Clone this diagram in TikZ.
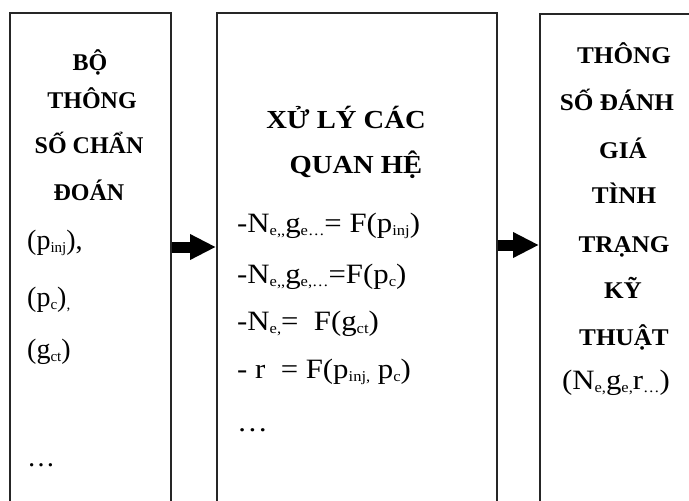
\documentclass[tikz,border=0pt]{standalone}
\usepackage{fontspec}
\setmainfont{Liberation Serif}
\newfontfamily\widefont[FakeStretch=1.1]{Liberation Serif}
\newfontfamily\semiwidefont[FakeStretch=1.05]{Liberation Serif}
\usetikzlibrary{arrows.meta}
\newcommand\lowsub[1]{\raisebox{-3.5pt}{\fontsize{15}{15}\selectfont #1}}
\tikzset{
  box/.style={draw=black!85, line width=1.6pt, anchor=north west, inner sep=0pt},
  ttl/.style={font=\fontsize{24}{24}\selectfont\bfseries, anchor=base, inner sep=0pt},
  wttl/.style={font=\semiwidefont\fontsize{24}{24}\selectfont\bfseries, anchor=base, inner sep=0pt},
  mttl/.style={font=\widefont\fontsize{26}{26}\selectfont\bfseries, anchor=base, inner sep=0pt},
  txt/.style={font=\fontsize{28}{28}\selectfont, anchor=base west, inner sep=0pt},
  wtxt/.style={font=\widefont\fontsize{28}{28}\selectfont, anchor=base west, inner sep=0pt},
  bigarrow/.style={line width=11pt, black, -{Triangle[length=26pt,width=24pt]}}
}
\begin{document}
\begin{tikzpicture}[x=1pt,y=-1pt]
\useasboundingbox (0,0) rectangle (689,501);
\begin{scope}
\clip (0,0) rectangle (689,501);
\node[box, minimum width=161pt, minimum height=520pt] (left) at (9,12) {};
\node[box, minimum width=280pt, minimum height=520pt] (mid) at (216,12) {};
\node[box, minimum width=180pt, minimum height=520pt] (right) at (539,13) {};
\end{scope}
% left box text
\node[ttl] (l1) at (90,70) {BỘ};
\node[ttl] (l2) at (92,108) {THÔNG};
\node[ttl] (l3) at (89,153) {SỐ CHẨN};
\node[ttl] (l4) at (89,200) {ĐOÁN};
\node[txt] (l5) at (27,249) {(p\lowsub{inj}),};
\node[txt] (l6) at (27,306) {(p\lowsub{c})\lowsub{,}};
\node[txt] (l7) at (27,358) {(g\lowsub{ct})};
\node[txt] (l8) at (27,466) {…};
% middle box text
\node[mttl] (m1) at (346,128) {XỬ LÝ CÁC};
\node[mttl] (m2) at (356,173) {QUAN HỆ};
\node[wtxt] (m3) at (237,232) {-N\lowsub{e,,}g\lowsub{e…}= F(p\lowsub{inj})};
\node[wtxt] (m4) at (237,283) {-N\lowsub{e,,}g\lowsub{e,…}=F(p\lowsub{c})};
\node[wtxt] (m5) at (237,330) {-N\lowsub{e,}=\ \ F(g\lowsub{ct})};
\node[wtxt] (m6) at (237,378) {- r\ \ = F(p\lowsub{inj,} p\lowsub{c})};
\node[wtxt] (m7) at (237,431) {…};
% right box text
\node[wttl] (r1) at (624,63) {THÔNG};
\node[wttl] (r2) at (617,110) {SỐ ĐÁNH};
\node[wttl] (r3) at (623,158) {GIÁ};
\node[wttl] (r4) at (624,203) {TÌNH};
\node[wttl] (r5) at (624,252) {TRẠNG};
\node[wttl] (r6) at (623,298) {KỸ};
\node[wttl] (r7) at (624,345) {THUẬT};
\node[wtxt, anchor=base] (r8) at (616,389) {(N\lowsub{e,}g\lowsub{e,}r\lowsub{…})};
% arrows
\coordinate (a1) at (0,247);
\coordinate (a2) at (0,245);
\draw[bigarrow] (left.east |- a1) -- (mid.west |- a1);
\draw[bigarrow] (mid.east |- a2) -- (right.west |- a2);
\end{tikzpicture}
\end{document}
